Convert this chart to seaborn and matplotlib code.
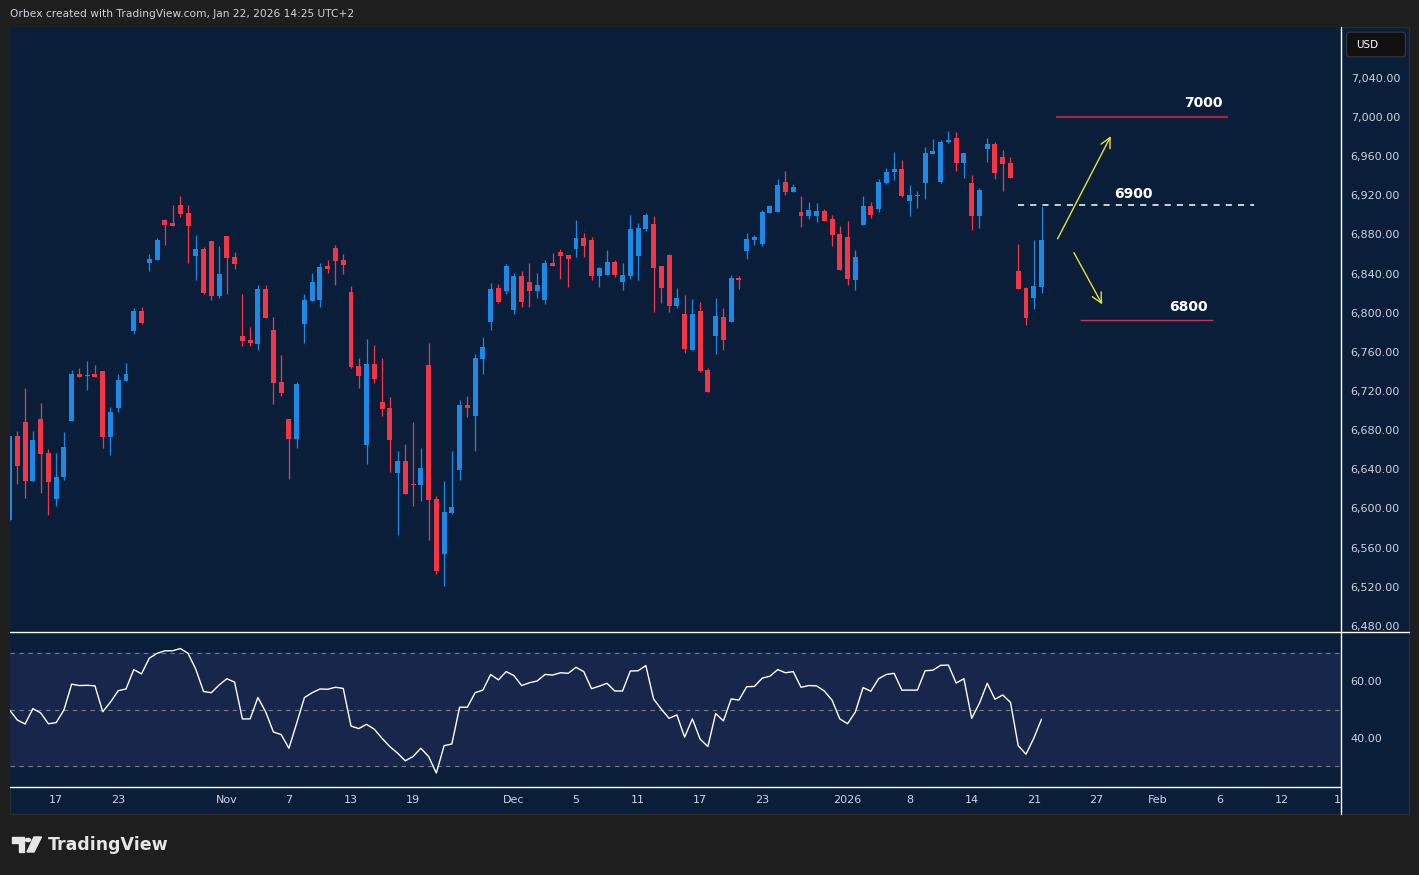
import matplotlib
matplotlib.use('Agg')
import matplotlib.pyplot as plt
from matplotlib.patches import Rectangle, Polygon, Circle, FancyBboxPatch
from matplotlib.lines import Line2D
import seaborn as sns
import numpy as np
import pandas as pd

# 12h candles (US500)
opens = [6588, 6674, 6688, 6628, 6691, 6657, 6610, 6632, 6689, 6737,
         6735, 6737, 6741, 6673, 6703, 6730, 6781, 6802, 6851, 6854,
         6895, 6892, 6910, 6902, 6858, 6865, 6873, 6817, 6878, 6857,
         6776, 6772, 6768, 6824, 6782, 6729, 6691, 6671, 6789, 6812,
         6813, 6848, 6866, 6854, 6821, 6746, 6665, 6748, 6709, 6703,
         6636, 6649, 6625, 6624, 6747, 6610, 6554, 6595, 6639, 6706,
         6695, 6753, 6791, 6825, 6822, 6803, 6838, 6831, 6822, 6813,
         6851, 6862, 6859, 6865, 6876, 6874, 6838, 6839, 6852, 6831,
         6838, 6858, 6886, 6891, 6848, 6859, 6807, 6799, 6762, 6802,
         6742, 6776, 6796, 6791, 6836, 6863, 6874, 6870, 6902, 6903,
         6934, 6923, 6903, 6899, 6899, 6904, 6896, 6880, 6877, 6833,
         6890, 6909, 6906, 6933, 6944, 6947, 6914, 6919, 6933, 6962,
         6934, 6975, 6979, 6953, 6933, 6899, 6967, 6972, 6959, 6953,
         6843, 6825, 6815, 6826]
highs = [6674, 6679, 6723, 6679, 6708, 6661, 6657, 6678, 6742, 6744,
         6751, 6747, 6741, 6704, 6737, 6749, 6805, 6806, 6860, 6876,
         6896, 6910, 6919, 6910, 6879, 6867, 6873, 6868, 6878, 6862,
         6819, 6785, 6828, 6828, 6796, 6757, 6691, 6729, 6819, 6841,
         6851, 6854, 6869, 6860, 6827, 6754, 6773, 6767, 6754, 6714,
         6659, 6666, 6688, 6662, 6769, 6613, 6628, 6659, 6711, 6715,
         6758, 6775, 6830, 6829, 6850, 6841, 6843, 6851, 6841, 6854,
         6861, 6865, 6859, 6895, 6881, 6877, 6847, 6864, 6854, 6851,
         6900, 6892, 6902, 6899, 6848, 6860, 6825, 6818, 6814, 6811,
         6744, 6815, 6805, 6839, 6838, 6882, 6879, 6905, 6910, 6937,
         6945, 6932, 6919, 6913, 6912, 6906, 6900, 6889, 6894, 6864,
         6919, 6913, 6937, 6948, 6964, 6956, 6931, 6924, 6969, 6978,
         6977, 6986, 6985, 6963, 6941, 6927, 6979, 6975, 6966, 6959,
         6870, 6826, 6874, 6909]
lows = [6588, 6625, 6611, 6628, 6616, 6593, 6603, 6629, 6689, 6734,
        6721, 6734, 6662, 6655, 6699, 6730, 6778, 6789, 6843, 6854,
        6869, 6889, 6898, 6851, 6833, 6819, 6813, 6815, 6819, 6845,
        6766, 6766, 6762, 6795, 6707, 6715, 6630, 6662, 6769, 6812,
        6806, 6841, 6828, 6840, 6744, 6723, 6645, 6728, 6695, 6637,
        6573, 6615, 6603, 6608, 6568, 6533, 6521, 6594, 6629, 6693,
        6659, 6737, 6782, 6810, 6819, 6799, 6806, 6806, 6815, 6809,
        6848, 6835, 6826, 6857, 6857, 6833, 6826, 6839, 6837, 6823,
        6835, 6833, 6884, 6801, 6810, 6801, 6805, 6759, 6762, 6739,
        6719, 6758, 6762, 6791, 6824, 6855, 6869, 6868, 6902, 6903,
        6920, 6923, 6888, 6896, 6893, 6894, 6868, 6844, 6828, 6823,
        6890, 6897, 6903, 6932, 6936, 6918, 6899, 6907, 6916, 6962,
        6933, 6973, 6945, 6938, 6885, 6887, 6954, 6937, 6924, 6938,
        6824, 6787, 6804, 6820]
closes = [6674, 6643, 6628, 6670, 6656, 6627, 6632, 6663, 6737, 6734,
          6736, 6734, 6673, 6699, 6731, 6737, 6802, 6790, 6855, 6874,
          6890, 6889, 6901, 6889, 6865, 6820, 6817, 6840, 6856, 6850,
          6771, 6769, 6824, 6795, 6728, 6718, 6671, 6727, 6813, 6831,
          6847, 6845, 6853, 6849, 6745, 6735, 6748, 6732, 6702, 6670,
          6649, 6615, 6624, 6641, 6609, 6536, 6596, 6602, 6706, 6703,
          6754, 6765, 6824, 6811, 6848, 6838, 6811, 6822, 6828, 6851,
          6848, 6858, 6855, 6876, 6868, 6838, 6846, 6852, 6839, 6839,
          6886, 6887, 6900, 6846, 6825, 6807, 6815, 6763, 6799, 6741,
          6719, 6797, 6772, 6836, 6833, 6875, 6877, 6903, 6909, 6931,
          6923, 6929, 6899, 6905, 6904, 6894, 6879, 6844, 6834, 6857,
          6909, 6900, 6934, 6944, 6947, 6919, 6920, 6920, 6963, 6965,
          6975, 6977, 6953, 6963, 6899, 6925, 6972, 6943, 6952, 6938,
          6824, 6795, 6827, 6874]
rsi = [49.8, 46.3, 44.9, 50.3, 48.8, 45.0, 45.4, 49.8, 58.9, 58.4,
       58.5, 58.3, 49.2, 52.6, 56.6, 57.2, 64.0, 62.5, 68.0, 69.7,
       70.6, 70.6, 71.4, 69.7, 64.1, 56.3, 55.9, 58.6, 60.8, 59.6,
       46.7, 46.7, 54.2, 49.2, 42.1, 41.2, 36.4, 45.2, 54.2, 55.9,
       57.2, 57.1, 57.8, 57.4, 44.2, 43.3, 44.8, 43.1, 39.9, 37.0,
       34.7, 32.0, 33.5, 36.4, 33.5, 27.7, 37.3, 37.9, 50.8, 50.8,
       55.9, 56.8, 62.3, 60.4, 63.3, 61.9, 58.4, 59.4, 60.0, 62.3,
       62.1, 62.9, 62.7, 64.8, 63.3, 57.3, 58.2, 59.2, 56.5, 56.5,
       63.5, 63.6, 65.4, 53.7, 50.1, 46.9, 48.1, 40.3, 46.7, 39.6,
       37.0, 48.6, 46.0, 53.7, 53.3, 58.0, 58.1, 61.0, 61.7, 64.0,
       62.9, 63.3, 57.8, 58.4, 58.3, 56.5, 53.3, 46.7, 45.0, 49.1,
       57.7, 56.4, 60.8, 62.3, 62.7, 56.8, 56.8, 56.8, 63.6, 63.8,
       65.5, 65.6, 59.3, 60.8, 46.9, 52.2, 59.2, 53.6, 55.1, 52.5,
       37.3, 34.3, 39.9, 46.6]

date_bars = [6, 14, 28, 36, 44, 52, 65, 73, 81, 89, 97, 108, 116, 124, 132, 140, 148, 156, 164]
date_labels = ['17', '23', 'Nov', '7', '13', '19', 'Dec', '5', '11', '17', '23', '2026',
               '8', '14', '21', '27', 'Feb', '6', '12']
price_ticks = [6480, 6520, 6560, 6600, 6640, 6680, 6720, 6760, 6800, 6840,
               6880, 6920, 6960, 7000, 7040]
rsi_ticks = [40, 60]

# drawn levels / arrows
level_prices = [7000, 6910, 6793]
level_names = ['7000', '6900', '6800']
arrow_up = [(134.9, 6873), (142.1, 6983)]
arrow_down = [(137.0, 6864), (141.0, 6806)]

W, H = 1419, 875
NAVY = '#0a1e3a'
BAND = '#17264b'
OUTER = '#1e1e1e'
UP = '#1e88e5'
DOWN = '#f23645'
TXT = '#d1d4dc'


def fx(px):
    return px / W


def fy(py):
    return 1 - py / H


sns.set_theme(style='dark')
plt.rcParams['font.family'] = ['DejaVu Sans']

df = pd.DataFrame({'open': opens, 'high': highs, 'low': lows, 'close': closes, 'rsi': rsi})
df['bar'] = np.arange(len(df))
df['up'] = df['close'] >= df['open']

fig = plt.figure(figsize=(W / 100, H / 100), dpi=100, facecolor=OUTER)
# chart panel behind the axes
fig.patches.append(Rectangle((fx(10), fy(814)), fx(1409) - fx(10), fy(27) - fy(814),
                             transform=fig.transFigure, facecolor=NAVY,
                             edgecolor='#2a2c30', lw=1.0, zorder=-5))

xlim = (0.05, 171.6)

# ---- price pane ----
ax = fig.add_axes([fx(10), fy(632), fx(1341) - fx(10), fy(27) - fy(632)])
ax.set_facecolor(NAVY)
cols = np.where(df['up'], UP, DOWN)
ax.vlines(df['bar'], df['low'], df['high'], colors=cols, lw=0.9, zorder=2)
body_lo = df[['open', 'close']].min(axis=1)
body_h = np.maximum((df['close'] - df['open']).abs(), 1.0)
ax.bar(df['bar'], body_h, bottom=body_lo, width=0.64, color=cols, linewidth=0, zorder=3)

ax.hlines(level_prices[0], 134.9, 157.1, color='#a3243b', lw=1.6, zorder=4)
ax.hlines(level_prices[1], 130.0, 160.4, color='white', lw=1.1, linestyles=(0, (4, 4)), zorder=4)
ax.hlines(level_prices[2], 138.0, 155.1, color='#c8344e', lw=1.0, zorder=4)
ax.text(153.9, 7014.6, level_names[0], color='white', fontsize=10, fontweight='bold', ha='center', va='center')
ax.text(144.8, 6921.6, level_names[1], color='white', fontsize=10, fontweight='bold', ha='center', va='center')
ax.text(151.9, 6805.6, level_names[2], color='white', fontsize=10, fontweight='bold', ha='center', va='center')
for a in (arrow_up, arrow_down):
    ax.annotate('', xy=a[1], xytext=a[0],
                arrowprops=dict(arrowstyle='->,head_length=0.6,head_width=0.3', color='#e8e03a', lw=1.0))

ax.set_xlim(*xlim)
ax.set_ylim(6473.8, 7092.0)
ax.set_xticks([])
ax.yaxis.tick_right()
ax.set_yticks(price_ticks)
ax.set_yticklabels([f'{p:,.2f}' for p in price_ticks])
ax.tick_params(axis='y', length=0, pad=7, labelsize=8, labelcolor=TXT)
for s in ax.spines.values():
    s.set_visible(False)
ax.grid(False)

# ---- RSI pane ----
ax2 = fig.add_axes([fx(10), fy(787), fx(1341) - fx(10), fy(632) - fy(787)])
ax2.set_facecolor(NAVY)
ax2.axhspan(30, 70, color=BAND, zorder=0)
for lvl in (30, 50, 70):
    ax2.axhline(lvl, color='#787b86', lw=0.8, dashes=(4, 4), zorder=1)
sns.lineplot(data=df, x='bar', y='rsi', ax=ax2, color='white', lw=1.0, zorder=3)
ax2.set_xlim(*xlim)
ax2.set_ylim(22.8, 77.2)
ax2.yaxis.tick_right()
ax2.set_yticks(rsi_ticks)
ax2.set_yticklabels([f'{v:.2f}' for v in rsi_ticks])
ax2.set_xticks(date_bars)
ax2.set_xticklabels(date_labels)
ax2.tick_params(axis='y', length=0, pad=7, labelsize=8, labelcolor=TXT)
ax2.tick_params(axis='x', length=0, pad=6, labelsize=8, labelcolor=TXT)
ax2.set_xlabel('')
ax2.set_ylabel('')
for s in ax2.spines.values():
    s.set_visible(False)
ax2.grid(False)
fig.text(fx(1341), fy(800), '1', color=TXT, fontsize=8, ha='right', va='center')

# separators
for (x0, y0, x1, y1) in [(10, 632, 1409, 632), (10, 787, 1341, 787), (1341, 27, 1341, 814)]:
    fig.lines.append(Line2D([fx(x0), fx(x1)], [fy(y0), fy(y1)], transform=fig.transFigure,
                            color='white', lw=1.0, zorder=5))

# USD badge
fig.patches.append(FancyBboxPatch((fx(1348), fy(56)), fx(1404) - fx(1348), fy(33) - fy(56),
                                  boxstyle='round,pad=0.001,rounding_size=0.003',
                                  transform=fig.transFigure, facecolor='#111111',
                                  edgecolor='#3a3a3a', lw=0.8, zorder=6))
fig.text(fx(1356), fy(44.5), 'USD', color='white', fontsize=7.5, va='center', zorder=7)

# header + footer
fig.text(fx(10), fy(14), 'Orbex created with TradingView.com, Jan 22, 2026 14:25 UTC+2',
         color=TXT, fontsize=7.7, va='center')
logo = '#e6e6e6'
fig.patches.append(Polygon([(fx(12), fy(837)), (fx(24), fy(837)), (fx(24), fy(852)),
                            (fx(18.5), fy(852)), (fx(18.5), fy(842.5)), (fx(12), fy(842.5))],
                           closed=True, transform=fig.transFigure, color=logo))
fig.patches.append(Circle((fx(28), fy(840)), 2.6 / W, transform=fig.transFigure, color=logo))
fig.patches.append(Polygon([(fx(34), fy(837)), (fx(41.5), fy(837)), (fx(34), fy(852)),
                            (fx(27), fy(852))],
                           closed=True, transform=fig.transFigure, color=logo))
fig.text(fx(48), fy(845), 'TradingView', color=logo, fontsize=12.5, fontweight='bold', va='center')

fig.savefig('out.png', dpi=100, facecolor=OUTER)
